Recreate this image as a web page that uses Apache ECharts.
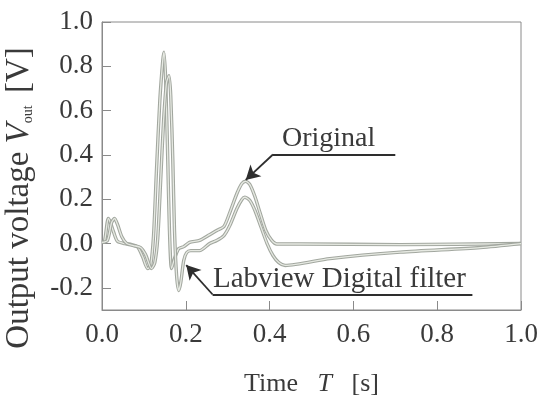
<!DOCTYPE html>
<html>
    <head>
        <meta charset="utf-8">
        <title>chart</title>
        <style>
            html, body { margin: 0; padding: 0; background: #fff; }
            #main { width: 539px; height: 398px; }
        </style>
    </head>
    <body>
        <div id="main"></div>
        <script src="https://cdn.jsdelivr.net/npm/echarts@6/dist/echarts.min.js"></script>
        <script type="text/javascript">
        var myChart = echarts.init(document.getElementById('main'));

        // time [s] and voltage [V]
        var origT = [0, 0.006, 0.015, 0.020, 0.028, 0.037, 0.054, 0.071, 0.085, 0.097, 0.109, 0.116, 0.123, 0.130, 0.138, 0.145, 0.148, 0.152, 0.157, 0.161, 0.166, 0.173, 0.183, 0.195, 0.209, 0.233, 0.257, 0.274, 0.291, 0.305, 0.322, 0.334, 0.343, 0.353, 0.365, 0.377, 0.391, 0.405, 0.417, 0.472, 0.712, 1.0];
        var origV = [0.005, 0.01, 0.113, 0.095, 0.05, 0.01, 0.0, -0.005, -0.015, -0.06, -0.113, -0.10, 0.035, 0.33, 0.645, 0.826, 0.864, 0.736, 0.375, 0.06, -0.113, -0.068, -0.023, -0.014, 0.005, 0.014, 0.04, 0.059, 0.077, 0.14, 0.226, 0.271, 0.281, 0.266, 0.212, 0.14, 0.059, 0.014, -0.002, -0.002, -0.005, 0.0];

        var filtT = [0, 0.013, 0.023, 0.030, 0.037, 0.047, 0.059, 0.075, 0.092, 0.104, 0.118, 0.126, 0.133, 0.140, 0.147, 0.154, 0.160, 0.164, 0.169, 0.173, 0.178, 0.183, 0.188, 0.195, 0.202, 0.212, 0.233, 0.257, 0.274, 0.291, 0.305, 0.322, 0.334, 0.341, 0.353, 0.365, 0.379, 0.394, 0.408, 0.422, 0.437, 0.544, 0.712, 0.903, 1.0];
        var filtV = [0.005, 0.014, 0.095, 0.113, 0.086, 0.032, 0.0, -0.009, -0.018, -0.05, -0.113, -0.086, 0.023, 0.284, 0.555, 0.727, 0.758, 0.668, 0.375, 0.059, -0.144, -0.212, -0.176, -0.077, -0.041, -0.032, -0.032, 0.0, 0.014, 0.036, 0.081, 0.158, 0.199, 0.209, 0.194, 0.149, 0.077, 0.0, -0.054, -0.086, -0.099, -0.068, -0.039, -0.018, 0.0];

        var yTicks = [-0.2, 0, 0.2, 0.4, 0.6, 0.8, 1.0];

        function pairs(t, v) {
            var res = [];
            for (var i = 0; i < t.length; i++) {
                res.push([t[i], v[i]]);
            }
            return res;
        }
        var origData = pairs(origT, origV);
        var filtData = pairs(filtT, filtV);

        var serif = 'Liberation Serif';
        var ink = '#3a3a3a';
        var frame = '#8a8a8a';

        // the scanned curves look like hollow grey strokes
        function curve(data, z) {
            return [{
                type: 'line', data: data, showSymbol: false, smooth: 0.25,
                lineStyle: { color: '#a2a79f', width: 3.4 }, z: z, silent: true
            }, {
                type: 'line', data: data, showSymbol: false, smooth: 0.25,
                lineStyle: { color: '#e6e9e2', width: 1.3 }, z: z + 1, silent: true
            }];
        }

        var arrowStyle = { color: '#2e2e2e', width: 1.8, type: 'solid' };

        var option = {
            backgroundColor: '#fff',
            animation: false,
            grid: {
                left: 102, right: 18, top: 22, bottom: 88,
                outerBoundsMode: 'none',
                show: true, borderColor: frame, borderWidth: 1
            },
            xAxis: {
                type: 'value', min: 0, max: 1, interval: 0.2,
                name: '{n|Time   }{i|T}{n|   [s]}',
                nameLocation: 'middle', nameGap: 61,
                nameTextStyle: {
                    rich: {
                        n: { fontFamily: serif, fontSize: 26, color: ink },
                        i: { fontFamily: serif, fontSize: 26, color: ink, fontStyle: 'italic' }
                    }
                },
                axisLine: { show: true, onZero: false, lineStyle: { color: frame } },
                axisTick: { inside: true, length: 9, lineStyle: { color: frame } },
                splitLine: { show: false },
                axisLabel: {
                    margin: 11, fontFamily: serif, fontSize: 27, color: ink,
                    formatter: function (v) { return v.toFixed(1); }
                }
            },
            yAxis: {
                type: 'value', min: -0.3, max: 1.0,
                axisLine: { show: true, onZero: false, lineStyle: { color: frame } },
                axisTick: { inside: true, length: 9, customValues: yTicks, lineStyle: { color: frame } },
                splitLine: { show: false },
                axisLabel: {
                    margin: 9, fontFamily: serif, fontSize: 27, color: ink,
                    customValues: yTicks,
                    formatter: function (v) { return v.toFixed(1); }
                }
            },
            graphic: [{
                // y axis title, sits a bit below the plot centre in the original
                type: 'text', x: 19, y: 198, rotation: Math.PI / 2,
                style: {
                    text: '{n|Output voltage }{i|V}{s|out}{n| [V]}',
                    align: 'center', verticalAlign: 'middle',
                    rich: {
                        n: { fontFamily: serif, fontSize: 33, fill: ink },
                        i: { fontFamily: serif, fontSize: 33, fill: ink, fontStyle: 'italic' },
                        s: { fontFamily: serif, fontSize: 14, fill: ink, padding: [18, 4, 0, 0] }
                    }
                }
            }, {
                type: 'text', left: 282, top: 125,
                style: { text: 'Original', font: '28px "Liberation Serif"', fill: ink }
            }, {
                type: 'text', left: 213, top: 265,
                style: { text: 'Labview Digital filter', font: '29px "Liberation Serif"', fill: ink }
            }],
            series: curve(origData, 2).concat(curve(filtData, 4)).concat([{
                type: 'line', data: [], silent: true,
                markLine: {
                    silent: true, animation: false,
                    symbolSize: [12, 14],
                    label: { show: false },
                    lineStyle: arrowStyle,
                    data: [
                        [{ coord: [0.408, 0.402], symbol: 'none' }, { coord: [0.343, 0.287], symbol: 'arrow' }],
                        [{ coord: [0.408, 0.402], symbol: 'none' }, { coord: [0.70, 0.402], symbol: 'none' }],
                        [{ coord: [0.264, -0.230], symbol: 'none' }, { coord: [0.201, -0.097], symbol: 'arrow' }],
                        [{ coord: [0.264, -0.230], symbol: 'none' }, { coord: [0.884, -0.230], symbol: 'none' }]
                    ]
                }
            }])
        };
        myChart.setOption(option);
        </script>
    </body>
</html>
